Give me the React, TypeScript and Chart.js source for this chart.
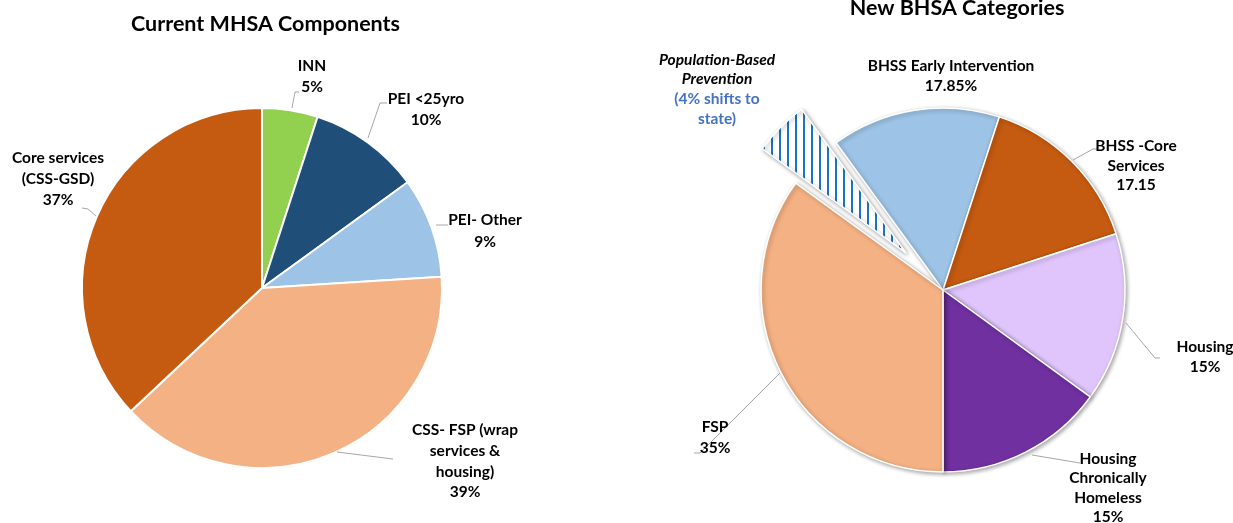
import React, { useEffect, useRef } from "react";
import { Chart, registerables } from "chart.js";

Chart.register(...registerables);

const FONT = "Lato, 'Open Sans', 'DejaVu Sans', sans-serif";

// ---------- Left chart: Current MHSA Components ----------
const currentTitle = "Current MHSA Components";
const currentCategories = ["INN", "PEI <25yro", "PEI- Other", "CSS- FSP (wrap services & housing)", "Core services (CSS-GSD)"];
const currentValues = [5, 10, 9, 39, 37];
const currentColors = ["#92D050", "#1F4E79", "#9DC3E6", "#F4B183", "#C55A11"];
const currentLabelText = [
  ["INN", "5%"],
  ["PEI <25yro", "10%"],
  ["PEI- Other", "9%"],
  ["CSS- FSP (wrap", "services &", "housing)", "39%"],
  ["Core services", "(CSS-GSD)", "37%"],
];

// ---------- Right chart: New BHSA Categories ----------
const newTitle = "New BHSA Categories";
const newCategories = ["BHSS Early Intervention", "BHSS -Core Services", "Housing", "Housing Chronically Homeless", "FSP", "Population-Based Prevention"];
const newValues = [15, 15, 15, 15, 35, 5];
const newColors = ["#9DC3E6", "#C55A11", "#E0C5FD", "#7030A0", "#F4B183", "HATCH"];
const newLabelText = [
  ["BHSS Early Intervention", "17.85%"],
  ["BHSS -Core", "Services", "17.15"],
  ["Housing", "15%"],
  ["Housing", "Chronically", "Homeless", "15%"],
  ["FSP", "35%"],
  ["Population-Based", "Prevention", "(4% shifts to", "state)"],
];

// ---------- layout (page coordinates) ----------
type LabelSpec = { x: number; y: number; lh: number; leader?: number[][]; styles?: string[] };

const currentLabelLayout: LabelSpec[] = [
  { x: 312, y: 66, lh: 21, leader: [[292, 108], [295, 92], [299, 92]] },
  { x: 426, y: 99, lh: 21, leader: [[368, 138], [380, 103], [387, 103]] },
  { x: 485, y: 220, lh: 21.5, leader: [[436, 225], [448, 225]] },
  { x: 465, y: 430, lh: 20.8, leader: [[337, 452], [393, 459]] },
  { x: 58, y: 158, lh: 21, leader: [[96, 216], [88, 209], [82, 208]] },
];

const newLabelLayout: LabelSpec[] = [
  { x: 951, y: 65.5, lh: 20.5 },
  { x: 1136, y: 146, lh: 19.5, leader: [[1073, 160], [1093, 149], [1098, 149]] },
  { x: 1205, y: 347, lh: 20, leader: [[1126, 323], [1155, 358], [1160, 358]] },
  { x: 1108, y: 459, lh: 19.3, leader: [[1032, 455], [1080, 463]] },
  { x: 715, y: 427, lh: 20.5, leader: [[780, 373], [700, 453], [694, 453]] },
  { x: 717, y: 59.5, lh: 19.7, styles: ["italic", "italic", "blue", "blue"] },
];

const LEFT_W = 616;
const RIGHT_W = 617;
const H = 523;
const LABEL_PX = 15.5;
const TITLE_PX = 21.5;

function makeHatch(): CanvasPattern | string {
  const c = document.createElement("canvas");
  c.width = 8;
  c.height = 8;
  const g = c.getContext("2d");
  if (!g) return "#2E75B6";
  g.fillStyle = "#ffffff";
  g.fillRect(0, 0, 8, 8);
  g.fillStyle = "#1F74C2";
  g.fillRect(3, 0, 2, 8);
  const p = g.createPattern(c, "repeat");
  return p || "#2E75B6";
}

function labelsPlugin(
  id: string,
  title: string,
  titleX: number,
  titleY: number,
  texts: string[][],
  layout: LabelSpec[],
  offsetX: number
) {
  return {
    id,
    afterDraw(chart: any) {
      const ctx: CanvasRenderingContext2D = chart.ctx;
      ctx.save();
      ctx.translate(-offsetX, 0);
      ctx.fillStyle = "#000";
      ctx.textAlign = "center";
      ctx.textBaseline = "alphabetic";
      ctx.font = `bold ${TITLE_PX}px ${FONT}`;
      ctx.fillText(title, titleX, titleY);

      ctx.strokeStyle = "#A6A6A6";
      ctx.lineWidth = 1;
      layout.forEach((l) => {
        if (!l.leader) return;
        ctx.beginPath();
        l.leader.forEach(([x, y], i) => (i ? ctx.lineTo(x, y) : ctx.moveTo(x, y)));
        ctx.stroke();
      });

      ctx.textBaseline = "middle";
      texts.forEach((lines, i) => {
        const l = layout[i];
        lines.forEach((t, j) => {
          const st = l.styles ? l.styles[j] : "normal";
          ctx.font = `${st === "italic" ? "italic " : ""}bold ${LABEL_PX}px ${FONT}`;
          ctx.fillStyle = st === "blue" ? "#4472C4" : "#000";
          ctx.fillText(t, l.x, l.y + j * l.lh);
        });
      });
      ctx.restore();
    },
  };
}

const explodePlugin = {
  id: "explodeWedge",
  afterDatasetsUpdate(chart: any) {
    const meta = chart.getDatasetMeta(0);
    const arc = meta.data[5];
    if (!arc) return;
    const mid = (arc.startAngle + arc.endAngle) / 2;
    arc.x += Math.cos(mid) * 52;
    arc.y += Math.sin(mid) * 52;
    arc.outerRadius -= 4;
  },
};

const shadowPlugin = {
  id: "pieShadow",
  beforeDatasetsDraw(chart: any) {
    const ctx = chart.ctx;
    ctx.save();
    ctx.shadowColor = "rgba(0,0,0,0.35)";
    ctx.shadowBlur = 4;
    ctx.shadowOffsetX = 1.5;
    ctx.shadowOffsetY = 1.5;
  },
  afterDatasetsDraw(chart: any) {
    chart.ctx.restore();
  },
};

export default function App() {
  const leftRef = useRef<HTMLCanvasElement | null>(null);
  const rightRef = useRef<HTMLCanvasElement | null>(null);

  useEffect(() => {
    if (!leftRef.current || !rightRef.current) return;
    const hatch = makeHatch();

    const left = new Chart(leftRef.current, {
      type: "pie",
      data: {
        labels: currentCategories,
        datasets: [
          {
            data: currentValues,
            backgroundColor: currentColors,
            borderColor: "#ffffff",
            borderWidth: 2,
          },
        ],
      },
      options: {
        responsive: false,
        animation: false,
        events: [],
        radius: 180,
        rotation: 0,
        layout: { padding: { left: 0, right: LEFT_W - 524, top: 53, bottom: 0 } },
        plugins: { legend: { display: false }, tooltip: { enabled: false }, title: { display: false } },
      } as any,
      plugins: [labelsPlugin("leftLabels", currentTitle, 265.5, 31, currentLabelText, currentLabelLayout, 0)],
    });

    const right = new Chart(rightRef.current, {
      type: "pie",
      data: {
        labels: newCategories,
        datasets: [
          {
            data: newValues,
            backgroundColor: newColors.map((c) => (c === "HATCH" ? hatch : c)),
            borderColor: "#ffffff",
            borderWidth: 1.5,
          },
        ],
      },
      options: {
        responsive: false,
        animation: false,
        events: [],
        radius: 182,
        rotation: -36,
        layout: { padding: { left: 37, right: 0, top: 57, bottom: 0 } },
        plugins: { legend: { display: false }, tooltip: { enabled: false }, title: { display: false } },
      } as any,
      plugins: [
        explodePlugin,
        shadowPlugin,
        labelsPlugin("rightLabels", newTitle, 957, 15, newLabelText, newLabelLayout, LEFT_W),
      ],
    });

    let alive = true;
    if ((document as any).fonts) {
      Promise.all([
        (document as any).fonts.load(`bold ${LABEL_PX}px Lato`),
        (document as any).fonts.load(`italic bold ${LABEL_PX}px Lato`),
        (document as any).fonts.load(`bold ${TITLE_PX}px Lato`),
      ]).then(() => {
        if (!alive) return;
        left.draw();
        right.draw();
      }).catch(() => {});
    }

    return () => {
      alive = false;
      left.destroy();
      right.destroy();
    };
  }, []);

  return (
    <div style={{ position: "absolute", left: 0, top: 0, width: LEFT_W + RIGHT_W, height: H, background: "#fff" }}>
      <canvas ref={leftRef} width={LEFT_W} height={H} style={{ position: "absolute", left: 0, top: 0 }} />
      <canvas ref={rightRef} width={RIGHT_W} height={H} style={{ position: "absolute", left: LEFT_W, top: 0 }} />
    </div>
  );
}
